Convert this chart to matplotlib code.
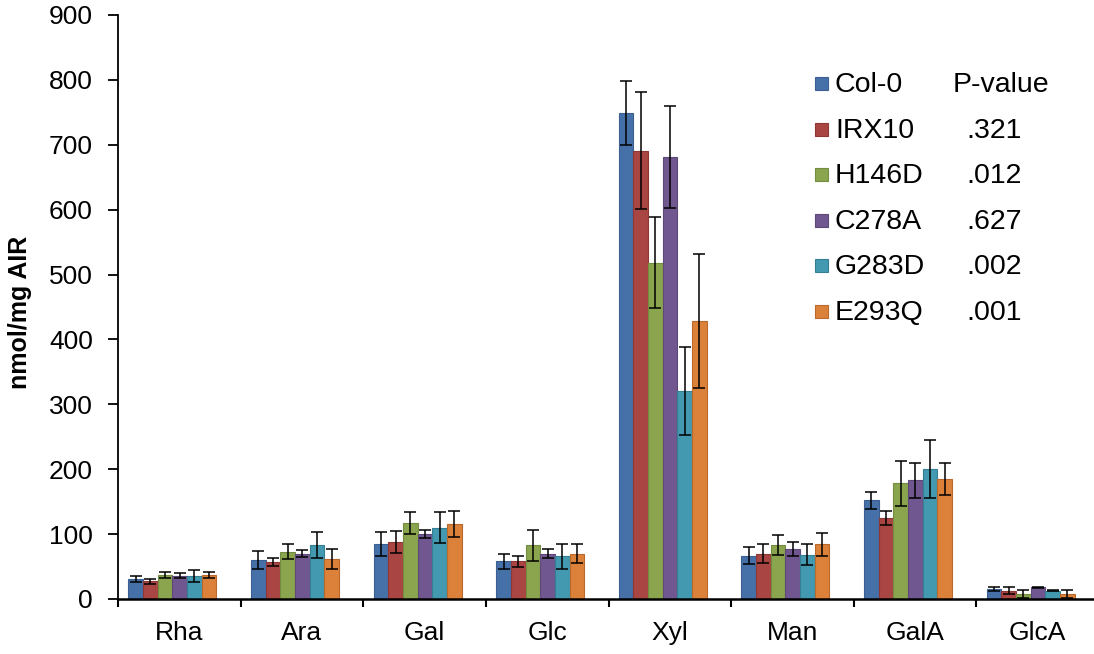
import numpy as np
import matplotlib
matplotlib.use("Agg")
import matplotlib.pyplot as plt
from matplotlib.patches import Rectangle

plt.rcParams['font.family'] = ['Liberation Sans', 'DejaVu Sans']

# sugars on x axis
sugars = ['Rha', 'Ara', 'Gal', 'Glc', 'Xyl', 'Man', 'GalA', 'GlcA']
lines = ['Col-0', 'IRX10', 'H146D', 'C278A', 'G283D', 'E293Q']
pvals = ['P-value', '.321', '.012', '.627', '.002', '.001']

# nmol/mg AIR, one list per line (order as sugars)
col0  = [31, 60, 85, 58, 749, 67, 152, 15]
irx10 = [27, 57, 88, 58, 691, 70, 125, 13]
h146d = [37, 73, 117, 83, 518, 83, 178, 8]
c278a = [36, 70, 100, 70, 681, 77, 183, 18]
g283d = [35, 83, 110, 66, 320, 68, 200, 13]
e293q = [37, 62, 115, 70, 428, 84, 185, 8]

# error bars (+/-)
col0_err  = [5, 14, 18, 11, 49, 13, 13, 3]
irx10_err = [4.5, 6, 17, 8, 90, 15, 11, 5]
h146d_err = [5, 12, 17, 24, 70, 15, 34, 6]
c278a_err = [4, 5, 6, 7, 78, 11, 27, 1]
g283d_err = [9, 20, 24, 19, 68, 16, 45, 1]
e293q_err = [5, 15, 20, 14, 103, 18, 24, 6]

values = [col0, irx10, h146d, c278a, g283d, e293q]
errors = [col0_err, irx10_err, h146d_err, c278a_err, g283d_err, e293q_err]
colors = ['#4670A8', '#A94543', '#8AA54E', '#71578F', '#4299B0', '#DB8139']
edges  = ['#3A5F90', '#8E3735', '#748C40', '#5E4878', '#367F93', '#B86A2C']

W, H = 1094, 654
fig = plt.figure(figsize=(W / 100, H / 100), dpi=100)
ax = fig.add_axes([118 / W, 1 - 599 / H, (1099 - 118) / W, (599 - 15) / H])

x = np.arange(len(sugars))
bw = 0.1196
for j in range(len(lines)):
    ax.bar(x + 0.443 + (j - 2.5) * bw, values[j], width=bw, color=colors[j],
           edgecolor=edges[j], linewidth=0.8, yerr=errors[j], capsize=4,
           error_kw=dict(ecolor='black', elinewidth=1.1, capthick=1.1), zorder=2)

ax.set_xlim(0, 8)
ax.set_ylim(0, 900)
ax.set_yticks(range(0, 901, 100))
ax.tick_params(axis='y', labelsize=19, length=7, width=1.3, pad=11)

ax.set_xticks(x + 0.5)
ax.set_xticklabels(sugars)
ax.set_xticks(np.arange(0, 9), minor=True)
ax.tick_params(axis='x', which='major', length=0, labelsize=19, pad=16)
ax.tick_params(axis='x', which='minor', length=6, width=1.5)

for s in ['top', 'right']:
    ax.spines[s].set_visible(False)
ax.spines['left'].set_linewidth(1.3)
ax.spines['bottom'].set_linewidth(1.8)

fig.text(20 / W, 1 - 312 / H, 'nmol/mg AIR', fontsize=18, fontweight='bold',
         rotation=90, ha='center', va='center')

# legend with P-values
rows_y = [85, 131, 176, 222, 267, 313]
for j in range(len(lines)):
    yc = rows_y[j]
    fig.patches.append(Rectangle((815 / W, 1 - (yc + 5) / H), 13 / W, 13 / H,
                                 transform=fig.transFigure, facecolor=colors[j],
                                 edgecolor=edges[j], linewidth=0.8))
    fig.text(835 / W, 1 - yc / H, lines[j], fontsize=20.5, va='center', ha='left')
    px = 953 if j == 0 else 966
    fig.text(px / W, 1 - yc / H, pvals[j], fontsize=20.5, va='center', ha='left')

fig.savefig('out.png', dpi=100)
